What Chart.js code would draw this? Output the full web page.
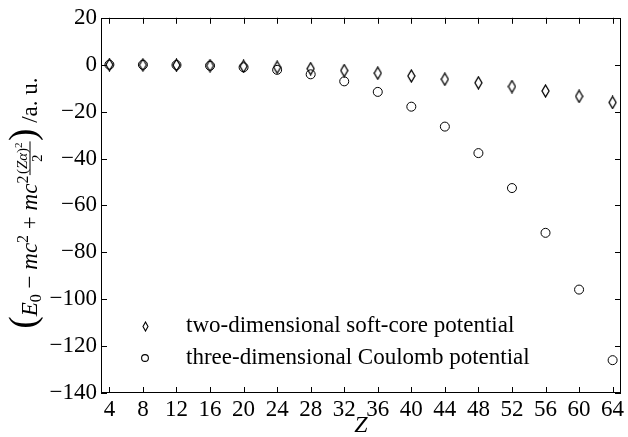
<!DOCTYPE html>
<html>
<head>
<meta charset="utf-8">
<script src="https://cdn.jsdelivr.net/npm/chart.js@4.4.1/dist/chart.umd.min.js"></script>
<style>
  html, body { margin: 0; padding: 0; background: #ffffff; }
  #wrap { width: 628px; height: 437px; position: relative; }
</style>
</head>
<body>
<div id="wrap"><canvas id="c" width="628" height="437"></canvas></div>
<script>
// ---- data ----
const zValues = [4, 8, 12, 16, 20, 24, 28, 32, 36, 40, 44, 48, 52, 56, 60, 64];
const softCore = [0, -0.1, -0.2, -0.4, -0.7, -1.1, -1.7, -2.5, -3.6, -4.8, -6.2, -7.7, -9.3, -11.2, -13.5, -16.1];
const coulomb = [0, -0.03, -0.14, -0.44, -1.1, -2.2, -4.1, -7.1, -11.6, -17.9, -26.4, -37.7, -52.6, -71.7, -95.9, -126];
const seriesLabels = ['two-dimensional soft-core potential', 'three-dimensional Coulomb potential'];
const xTickValues = [4, 8, 12, 16, 20, 24, 28, 32, 36, 40, 44, 48, 52, 56, 60, 64];
const yTickValues = [20, 0, -20, -40, -60, -80, -100, -120, -140];
const xAxisLabel = 'Z';

const SERIF = '"Liberation Serif", "Times New Roman", serif';

function makeDiamond(w, h, lw) {
  const c = document.createElement('canvas');
  c.width = w + 2; c.height = h + 2;
  const g = c.getContext('2d');
  g.strokeStyle = '#000'; g.lineWidth = lw;
  g.beginPath();
  g.moveTo(c.width / 2, 1);
  g.lineTo(c.width - 1, c.height / 2);
  g.lineTo(c.width / 2, c.height - 1);
  g.lineTo(1, c.height / 2);
  g.closePath();
  g.stroke();
  return c;
}
const diamondImg = makeDiamond(7, 12, 1.3);
const diamondLegend = makeDiamond(5, 9, 1.1);

const toPts = (ys) => zValues.map((z, i) => ({ x: z, y: ys[i] }));

// box + inward ticks on all four sides
const frameTicks = {
  id: 'frameTicks',
  afterDraw(chart) {
    const { ctx, chartArea: a, scales } = chart;
    ctx.save();
    ctx.strokeStyle = '#000';
    ctx.lineWidth = 1;
    ctx.strokeRect(Math.round(a.left) + 0.5, Math.round(a.top) + 0.5,
                   Math.round(a.right - a.left) - 1, Math.round(a.bottom - a.top) - 1);
    const L = 6;
    ctx.beginPath();
    scales.x.ticks.forEach(t => {
      const px = Math.round(scales.x.getPixelForValue(t.value)) + 0.5;
      ctx.moveTo(px, a.bottom); ctx.lineTo(px, a.bottom - L);
      ctx.moveTo(px, a.top); ctx.lineTo(px, a.top + L);
    });
    scales.y.ticks.forEach(t => {
      const py = Math.round(scales.y.getPixelForValue(t.value)) + 0.5;
      ctx.moveTo(a.left, py); ctx.lineTo(a.left + L, py);
      ctx.moveTo(a.right, py); ctx.lineTo(a.right - L, py);
    });
    ctx.stroke();
    ctx.restore();
  }
};

// legend inside the plot area, lower left
const innerLegend = {
  id: 'innerLegend',
  afterDraw(chart) {
    const { ctx, chartArea: a } = chart;
    ctx.save();
    ctx.font = '23px ' + SERIF;
    ctx.fillStyle = '#000';
    ctx.textBaseline = 'middle';
    const mx = a.left + 44, tx = a.left + 85;
    const rows = [a.bottom - 67, a.bottom - 35];
    ctx.drawImage(diamondLegend, Math.round(mx - diamondLegend.width / 2), Math.round(rows[0] - diamondLegend.height / 2));
    ctx.fillText(chart.data.datasets[0].label, tx, rows[0]);
    ctx.strokeStyle = '#000'; ctx.lineWidth = 1.1;
    ctx.beginPath(); ctx.arc(mx, rows[1], 3.4, 0, Math.PI * 2); ctx.stroke();
    ctx.fillText(chart.data.datasets[1].label, tx, rows[1]);
    ctx.restore();
  }
};

// axis titles: rotated math label on y, italic Z on x
const axisTitles = {
  id: 'axisTitles',
  afterDraw(chart) {
    const { ctx, chartArea: a } = chart;
    ctx.save();
    ctx.fillStyle = '#000';
    ctx.font = 'italic 24px ' + SERIF;
    ctx.textAlign = 'center';
    ctx.textBaseline = 'alphabetic';
    ctx.fillText(xAxisLabel, (a.left + a.right) / 2, 432);

    const F = (s, it) => (it ? 'italic ' : '') + s + 'px ' + SERIF;
    const pieces = [
      { t: '(', f: F(37), dy: -2.5 },
      { t: 'E', f: F(23, true), dy: 0 },
      { t: '0', f: F(16), dy: 4 },
      { t: ' \u2212 ', f: F(23), dy: 0 },
      { t: 'mc', f: F(23, true), dy: 0 },
      { t: '2', f: F(16), dy: -9 },
      { t: ' + ', f: F(23), dy: 0 },
      { t: 'mc', f: F(23, true), dy: 0 },
      { t: '2', f: F(16), dy: -9 },
      { frac: true },
      { t: ')', f: F(37), dy: -2.5 },
      { t: ' /a. u.', f: F(23), dy: 0 }
    ];
    const numParts = [
      { t: '(', f: F(15), dy: 0 },
      { t: 'Z\u03b1', f: F(15, true), dy: 0 },
      { t: ')', f: F(15), dy: 0 },
      { t: '2', f: F(11), dy: -5 }
    ];
    const w = (p) => { ctx.font = p.f; return ctx.measureText(p.t).width; };
    const numW = numParts.reduce((s, p) => s + w(p), 0);
    ctx.font = F(15); const denW = ctx.measureText('2').width;
    const fracW = Math.max(numW, denW) + 3;
    let total = 0;
    pieces.forEach(p => { total += p.frac ? fracW : w(p); });
    const cy = 203, bx = 37;
    ctx.translate(bx, cy + total / 2);
    ctx.rotate(-Math.PI / 2);
    ctx.textAlign = 'left';
    let x = 0;
    pieces.forEach(p => {
      if (p.frac) {
        let nx = x + (fracW - numW) / 2;
        numParts.forEach(q => { ctx.font = q.f; ctx.fillText(q.t, nx, -10.5 + q.dy); nx += ctx.measureText(q.t).width; });
        ctx.fillRect(x + 0.5, -7.5, fracW - 1, 1);
        ctx.font = F(15); ctx.fillText('2', x + (fracW - denW) / 2, 4.5);
        x += fracW;
      } else {
        ctx.font = p.f; ctx.fillText(p.t, x, p.dy); x += ctx.measureText(p.t).width;
      }
    });
    ctx.restore();
  }
};

const tickFont = { family: SERIF, size: 23 };
const fmt = (v) => (v < 0 ? '\u2212' + Math.abs(v) : String(v));

new Chart(document.getElementById('c'), {
  type: 'scatter',
  data: {
    datasets: [
      {
        label: seriesLabels[0],
        data: toPts(softCore),
        pointStyle: diamondImg,
        pointRadius: 6,
        borderColor: '#000',
        backgroundColor: 'rgba(0,0,0,0)'
      },
      {
        label: seriesLabels[1],
        data: toPts(coulomb),
        pointStyle: 'circle',
        pointRadius: 4.5,
        borderWidth: 1,
        borderColor: '#000',
        backgroundColor: 'rgba(0,0,0,0)'
      }
    ]
  },
  options: {
    responsive: false,
    animation: false,
    devicePixelRatio: 1,
    layout: { padding: { left: 0, right: 5, top: 17, bottom: 0 } },
    plugins: { legend: { display: false }, tooltip: { enabled: false } },
    scales: {
      x: {
        type: 'linear',
        min: 3,
        max: 65,
        afterBuildTicks: (s) => { s.ticks = xTickValues.map(v => ({ value: v })); },
        afterFit: (s) => { s.height = 44; },
        grid: { display: false, drawTicks: false },
        border: { display: false },
        ticks: { font: tickFont, color: '#000', padding: 3, maxRotation: 0, autoSkip: false, callback: fmt }
      },
      y: {
        type: 'linear',
        min: -140,
        max: 20,
        afterBuildTicks: (s) => { s.ticks = yTickValues.map(v => ({ value: v })); },
        afterFit: (s) => { s.width = 101; },
        grid: { display: false, drawTicks: false },
        border: { display: false },
        ticks: { font: tickFont, color: '#000', padding: 4, autoSkip: false, callback: fmt }
      }
    }
  },
  plugins: [frameTicks, innerLegend, axisTitles]
});
</script>
</body>
</html>
